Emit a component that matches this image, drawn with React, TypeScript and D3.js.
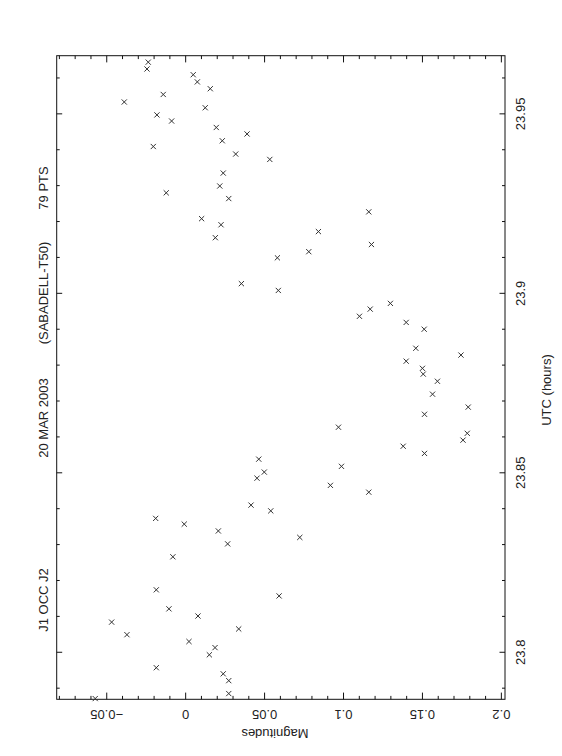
import React, { useEffect, useRef } from "react";
import * as d3 from "d3";

// UTC (hours) of each measurement
const utc = [
  23.9644, 23.9625, 23.9609, 23.9589, 23.957, 23.9554, 23.9533, 23.9517, 23.9497, 23.948,
  23.9462, 23.9444, 23.9425, 23.9409, 23.9388, 23.9373, 23.9335, 23.9299, 23.928, 23.9264,
  23.9227, 23.9208, 23.9191, 23.9172, 23.9155, 23.9136, 23.9116, 23.9099, 23.9027, 23.9008,
  23.8972, 23.8956, 23.8936, 23.8919, 23.89, 23.8847, 23.8828, 23.8811, 23.8791, 23.8775,
  23.8755, 23.8719, 23.8683, 23.8663, 23.8627, 23.861, 23.8591, 23.8574, 23.8554, 23.8538,
  23.8518, 23.8502, 23.8485, 23.8465, 23.8446, 23.841, 23.8394, 23.8373, 23.8357, 23.8338,
  23.832, 23.8302, 23.8266, 23.8174, 23.8157, 23.8121, 23.8101, 23.8084, 23.8065, 23.8049,
  23.803, 23.8013, 23.7993, 23.7957, 23.794, 23.7921, 23.7885, 23.7871,
];

// magnitude difference for each point
const mags = [
  -0.0237, -0.0245, 0.0048, 0.0074, 0.0156, -0.0142, -0.0389, 0.0124, -0.0182, -0.0089,
  0.0194, 0.0389, 0.0232, -0.0205, 0.0317, 0.0533, 0.0238, 0.0216, -0.0123, 0.0273,
  0.116, 0.0101, 0.0224, 0.0841, 0.0188, 0.1177, 0.078, 0.0581, 0.0353, 0.0587,
  0.1297, 0.1169, 0.1101, 0.1397, 0.1511, 0.1458, 0.1744, 0.1397, 0.15, 0.1505,
  0.1595, 0.1564, 0.179, 0.1513, 0.0968, 0.1784, 0.1757, 0.1378, 0.1513, 0.0463,
  0.0987, 0.0498, 0.0452, 0.0917, 0.116, 0.0414, 0.0539, -0.019, -0.0009, 0.0207,
  0.0723, 0.0266, -0.0081, -0.0186, 0.0592, -0.0106, 0.0078, -0.0469, 0.0336, -0.0372,
  0.0021, 0.0186, 0.015, -0.0186, 0.0238, 0.0273, 0.0273, -0.0573,
];

const utcTicks = [23.8, 23.85, 23.9, 23.95];
const magTicks = [-0.05, 0, 0.05, 0.1, 0.15, 0.2];
const magLabels = ["\u22120.05", "0", "0.05", "0.1", "0.15", "0.2"];

const titleParts = ["J1 OCC J2", "20 MAR 2003", "(SABADELL-T50)", "79 PTS"];

const App = () => {
  const svgRef = useRef<SVGSVGElement>(null);

  useEffect(() => {
    const root = d3.select(svgRef.current);
    root.selectAll("*").remove();

    // the plot is drawn landscape (756 x 562) and turned a quarter turn
    const W = 756;
    const left = 56.7, right = 700.3, top = 56.7, bottom = 505;
    const g = root
      .append("g")
      .attr("transform", `translate(0,${W}) rotate(-90)`)
      .attr("font-family", "'Liberation Sans', Arial, sans-serif")
      .attr("fill", "#222");

    const x = d3.scaleLinear().domain([23.7869, 23.9662]).range([left, right]);
    // magnitudes grow downward
    const y = d3.scaleLinear().domain([-0.0817, 0.2023]).range([top, bottom]);

    // frame
    g.append("rect")
      .attr("x", left)
      .attr("y", top)
      .attr("width", right - left)
      .attr("height", bottom - top)
      .attr("fill", "none")
      .attr("stroke", "#111")
      .attr("stroke-width", 1);

    const isMajor = (v: number, step: number) =>
      Math.abs(v / step - Math.round(v / step)) < 1e-6;

    // UTC ticks on bottom and top
    x.ticks(20).forEach((t) => {
      const len = isMajor(t, 0.05) ? 5.5 : 3;
      const px = x(t);
      g.append("line").attr("x1", px).attr("x2", px).attr("y1", bottom).attr("y2", bottom - len)
        .attr("stroke", "#111");
      g.append("line").attr("x1", px).attr("x2", px).attr("y1", top).attr("y2", top + len)
        .attr("stroke", "#111");
    });

    // magnitude ticks on left and right
    y.ticks(30).forEach((t) => {
      const len = isMajor(t, 0.05) ? 6.7 : 3.4;
      const py = y(t);
      g.append("line").attr("x1", left).attr("x2", left + len).attr("y1", py).attr("y2", py)
        .attr("stroke", "#111");
      g.append("line").attr("x1", right).attr("x2", right - len).attr("y1", py).attr("y2", py)
        .attr("stroke", "#111");
    });

    // UTC labels
    g.selectAll(".utcLabel")
      .data(utcTicks)
      .enter()
      .append("text")
      .attr("x", (d) => x(d))
      .attr("y", bottom + 20)
      .attr("text-anchor", "middle")
      .attr("font-size", 13)
      .text((d) => d3.format("")(d));

    g.append("text")
      .attr("x", W - 390)
      .attr("y", bottom + 46)
      .attr("text-anchor", "middle")
      .attr("font-size", 13)
      .text("UTC (hours)");

    // magnitude labels, parallel to the axis
    g.selectAll(".magLabel")
      .data(magTicks)
      .enter()
      .append("text")
      .attr("transform", (d) => `translate(${left - 10.7},${y(d)}) rotate(-90)`)
      .attr("text-anchor", "middle")
      .attr("font-size", 13)
      .text((d, i) => magLabels[i]);

    g.append("text")
      .attr("transform", `translate(27,275) rotate(-90)`)
      .attr("text-anchor", "middle")
      .attr("font-size", 13)
      .text("Magnitudes");

    // title
    const titleX = [156, 338, 463, 568];
    titleParts.forEach((s, i) => {
      g.append("text")
        .attr("x", titleX[i])
        .attr("y", 48)
        .attr("text-anchor", "middle")
        .attr("font-size", 13)
        .text(s);
    });

    // points drawn as small crosses
    const r = 2.6;
    const pts = utc.map((u, i) => ({ u, m: mags[i] }));
    g.selectAll(".pt")
      .data(pts)
      .enter()
      .append("path")
      .attr("d", (d) => {
        const px = x(d.u), py = y(d.m);
        return `M${px - r},${py - r}L${px + r},${py + r}M${px - r},${py + r}L${px + r},${py - r}`;
      })
      .attr("stroke", "#333")
      .attr("stroke-width", 1)
      .attr("fill", "none");
  }, []);

  return (
    <svg
      ref={svgRef}
      width={562}
      height={756}
      style={{ position: "absolute", left: 0, top: 0, background: "#fff" }}
    ></svg>
  );
};

export default App;
